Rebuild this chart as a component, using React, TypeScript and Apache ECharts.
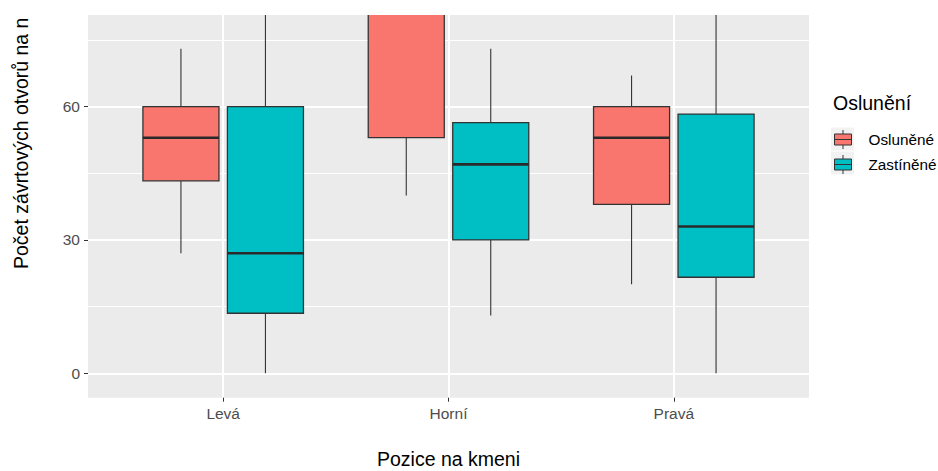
import React, { useEffect, useRef } from "react";
import * as echarts from "echarts";

// ---- data ----
const categories = ["Levá", "Horní", "Pravá"];
const seriesNames = ["Osluněné", "Zastíněné"];
// [min, Q1, median, Q3, max] per category
const osluneneBoxes = [
  [27, 43.3, 53, 60, 73],
  [40, 53, 88, 100, 118],
  [20, 38, 53, 60, 67],
];
const zastineneBoxes = [
  [0, 13.5, 27, 60, 95],
  [13, 30, 47, 56.4, 73],
  [0, 21.6, 33, 58.3, 92],
];
const yTicks = [0, 30, 60];
const yMinorTicks = [15, 45, 75];
const legendTitle = "Oslunění";
const xTitle = "Pozice na kmeni";
const yTitle = "Počet závrtových otvorů na n";

const COLORS = ["#F8766D", "#00BFC4"];
const EDGE = "#333333";
const FONT = "'Liberation Sans', Arial, sans-serif";
const DODGE = 0.1875;
const BOX_HALF = 0.16875;

const makeRender = (offset: number, color: string) => (params: any, api: any) => {
  const xc = api.value(0) + offset;
  const lo = api.value(1);
  const q1 = api.value(2);
  const med = api.value(3);
  const q3 = api.value(4);
  const hi = api.value(5);
  const pTL = api.coord([xc - BOX_HALF, q3]);
  const pBR = api.coord([xc + BOX_HALF, q1]);
  const pMed = api.coord([xc, med]);
  const yHi = api.coord([xc, hi])[1];
  const yLo = api.coord([xc, lo])[1];
  return {
    type: "group",
    children: [
      { type: "line", shape: { x1: pMed[0], y1: yHi, x2: pMed[0], y2: pTL[1] }, style: { stroke: EDGE, lineWidth: 1.1 } },
      { type: "line", shape: { x1: pMed[0], y1: pBR[1], x2: pMed[0], y2: yLo }, style: { stroke: EDGE, lineWidth: 1.1 } },
      {
        type: "rect",
        shape: { x: pTL[0], y: pTL[1], width: pBR[0] - pTL[0], height: pBR[1] - pTL[1] },
        style: { fill: color, stroke: EDGE, lineWidth: 1.3 },
      },
      { type: "line", shape: { x1: pTL[0], y1: pMed[1], x2: pBR[0], y2: pMed[1] }, style: { stroke: "#2a2a2a", lineWidth: 2.6 } },
    ],
  };
};

const LEGEND_ICON =
  "path://M0 4 L17 4 L17 15 L0 15 Z M8.5 0 L8.5 4 M8.5 15 L8.5 19 M0 9.5 L17 9.5";

export default function App() {
  const ref = useRef<HTMLDivElement>(null);
  useEffect(() => {
    if (!ref.current) return;
    const chart = echarts.init(ref.current, undefined, { renderer: "svg" });
    const boxData = [osluneneBoxes, zastineneBoxes];
    const option: any = {
      animation: false,
      backgroundColor: "#ffffff",
      textStyle: { fontFamily: FONT },
      grid: {
        left: 88,
        right: 129,
        top: 15,
        bottom: 73.3,
        outerBoundsMode: "none",
        containLabel: false,
        show: true,
        backgroundColor: "#EBEBEB",
        borderWidth: 0,
      },
      title: {
        text: legendTitle,
        left: 833,
        top: 93,
        padding: 0,
        textStyle: { fontFamily: FONT, fontSize: 19.5, fontWeight: "normal", color: "#000" },
      },
      legend: {
        data: seriesNames,
        orient: "vertical",
        left: 834,
        top: 129.5,
        padding: 0,
        itemGap: 5,
        itemWidth: 17,
        itemHeight: 19,
        icon: LEGEND_ICON,
        itemStyle: { borderColor: EDGE, borderWidth: 1 },
        textStyle: { fontFamily: FONT, fontSize: 15.3, lineHeight: 19, color: "#000", padding: [0, 0, 0, 12] },
        selectedMode: false,
      },
      xAxis: {
        type: "value",
        min: 0.4,
        max: 3.6,
        axisLine: { show: false, onZero: false },
        axisTick: { show: true, customValues: [1, 2, 3], length: 4, lineStyle: { color: EDGE } },
        axisLabel: {
          customValues: [1, 2, 3],
          formatter: (v: number) => categories[Math.round(v) - 1] ?? "",
          color: "#4D4D4D",
          fontSize: 15.5,
          fontFamily: FONT,
          margin: 8,
        },
        splitLine: { show: true, lineStyle: { color: "#ffffff", width: 2 } },
        name: xTitle,
        nameLocation: "middle",
        nameGap: 51,
        nameTextStyle: { fontFamily: FONT, fontSize: 19.5, color: "#000" },
      },
      yAxis: [
        {
          type: "value",
          min: -5.5,
          max: 80.6,
          axisLine: { show: false, onZero: false },
          axisTick: { show: true, customValues: yTicks, length: 4, lineStyle: { color: EDGE } },
          axisLabel: { customValues: yTicks, color: "#4D4D4D", fontSize: 15.5, fontFamily: FONT, margin: 8 },
          splitLine: { show: true, lineStyle: { color: "#ffffff", width: 2 } },
        },
        {
          type: "value",
          min: -5.5,
          max: 80.6,
          position: "left",
          axisLine: { show: false, onZero: false },
          axisTick: { show: false, customValues: yMinorTicks },
          axisLabel: { show: false, customValues: yMinorTicks },
          splitLine: { show: true, lineStyle: { color: "#ffffff", width: 1 } },
        },
      ],
      graphic: [
        { type: "rect", z: 0, shape: { x: 831, y: 127.5, width: 23, height: 23 }, style: { fill: "#F2F2F2" } },
        { type: "rect", z: 0, shape: { x: 831, y: 151.5, width: 23, height: 23 }, style: { fill: "#F2F2F2" } },
        {
          type: "text",
          x: 21,
          y: 269,
          rotation: Math.PI / 2,
          style: {
            text: yTitle,
            fontFamily: FONT,
            fontSize: 19.5,
            fill: "#000",
            textAlign: "left",
            textVerticalAlign: "middle",
          },
        },
      ],
      series: seriesNames.map((name, si) => ({
        name,
        type: "custom",
        xAxisIndex: 0,
        yAxisIndex: 0,
        clip: true,
        itemStyle: { color: COLORS[si], borderColor: EDGE, borderWidth: 1 },
        renderItem: makeRender(si === 0 ? -DODGE : DODGE, COLORS[si]),
        encode: { x: 0, y: [1, 2, 3, 4, 5] },
        data: categories.map((c, i) => [i + 1, ...boxData[si][i]]),
      })),
    };
    chart.setOption(option);
    return () => chart.dispose();
  }, []);
  return (
    <div
      ref={ref}
      style={{ position: "fixed", left: 0, top: 0, width: 938, height: 471 }}
    />
  );
}
